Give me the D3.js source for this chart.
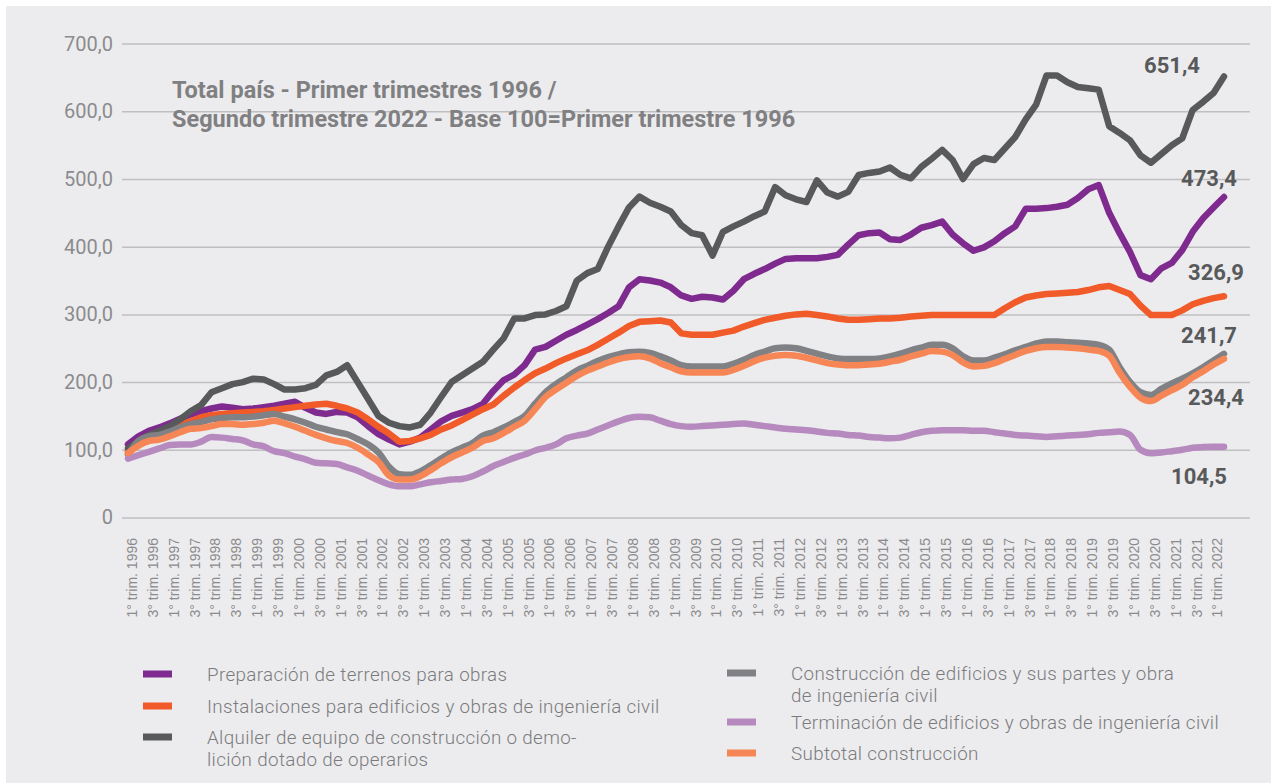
<!DOCTYPE html>
<html>
<head>
<meta charset="utf-8">
<script src="https://cdn.jsdelivr.net/npm/d3@7"></script>
<style>
body { margin: 0; background: #fff; }
</style>
</head>
<body>
<div class="chartwrap"></div>
<script>
var width = 1271, height = 783;

// quarter labels 1996 Q1 .. 2022 Q2
var years = d3.range(1996, 2023);
var quarters = [];
years.forEach(function(yr) {
    [1, 2, 3, 4].forEach(function(q) {
        if (yr == 2022 && q > 2) return;
        quarters.push(q + "° trim. " + yr);
    });
});

var yTicks = [0, 100, 200, 300, 400, 500, 600, 700];

var preparacion = [
    108, 120, 128, 133, 139, 146, 152, 157, 161, 164,
    162, 160, 161, 163, 165, 168, 171, 162, 155, 153,
    156, 155, 148, 135, 123, 115, 108, 112, 118, 130,
    142, 150, 155, 160, 168, 187, 203, 211, 225, 248,
    252, 261, 270, 277, 285, 293, 302, 312, 340, 352,
    350, 347, 340, 328, 323, 326, 325, 322, 335, 352,
    360, 367, 375, 382, 383, 383, 383, 385, 388, 403,
    417, 420, 421, 411, 410, 418, 428, 432, 437, 418,
    405, 394, 399, 408, 420, 430, 456, 456, 457, 459,
    462, 472, 485, 491, 450, 420, 392, 358, 352, 368,
    376, 395, 422, 442, 458, 473.4
];

var instalaciones = [
    97, 108, 118, 123, 130, 137, 142, 148, 151, 153,
    154, 155, 156, 157, 159, 161, 163, 165, 167, 168,
    165, 161, 155, 145, 134, 124, 112, 113, 117, 122,
    130, 136, 144, 152, 160, 167, 180, 192, 203, 213,
    220, 228, 235, 241, 247, 255, 264, 273, 283, 289,
    290, 291, 288, 272, 270, 270, 270, 273, 276, 282,
    287, 292, 295, 298, 300, 301, 299, 297, 294, 292,
    292, 293, 294, 294, 295, 297, 298, 299, 299, 299,
    299, 299, 299, 299, 309, 318, 325, 328, 330, 331,
    332, 333, 336, 340, 342, 336, 330, 313, 299, 299,
    299, 306, 315, 320, 324, 326.9
];

var alquiler = [
    102, 113, 122, 128, 135, 145, 157, 166, 185, 191,
    197, 200, 205, 204, 197, 189, 189, 191, 196, 210,
    215, 225, 200, 175, 150, 140, 135, 133, 137, 155,
    178, 200, 210, 220, 230, 248, 265, 294, 294, 299,
    300, 305, 312, 350, 361, 367, 400, 430, 458, 474,
    465, 459, 452, 432, 420, 417, 387, 422, 430, 437,
    445, 452, 488, 476, 470, 466, 498, 480, 474, 481,
    506, 509, 511, 517, 506, 501, 518, 530, 543, 528,
    500, 522, 531, 528, 545, 562, 588, 610, 653, 653,
    643, 636, 634, 632, 578, 568, 557, 535, 524, 537,
    550, 560, 602, 614, 627, 651.4
];

var edificios = [
    93, 113, 120, 122, 127, 133, 138, 141, 145, 147,
    148, 148, 149, 151, 153, 149, 145, 140, 134, 130,
    126, 123, 116, 108, 96, 75, 64, 63, 68, 77,
    87, 96, 103, 110, 121, 126, 133, 141, 150, 168,
    185, 197, 207, 217, 224, 231, 237, 241, 244, 245,
    243, 238, 232, 225, 223, 223, 223, 223, 227, 233,
    240, 245, 250, 251, 250, 246, 242, 238, 235, 234,
    234, 234, 235, 238, 242, 247, 251, 255, 255, 250,
    238, 232, 232, 236, 241, 247, 252, 257, 260, 260,
    259, 258, 257, 255, 248, 222, 200, 185, 181, 190,
    198, 205, 213, 222, 232, 241.7
];

var terminacion = [
    87, 92, 97, 102, 107, 108, 108, 112, 119, 118,
    116, 114, 108, 105, 98, 95, 90, 86, 81, 80,
    79, 74, 69, 62, 55, 49, 46, 46, 49, 52,
    54, 56, 57, 61, 68, 76, 82, 88, 93, 99,
    103, 108, 117, 121, 124, 130, 136, 142, 147, 149,
    148, 143, 138, 135, 134, 135, 136, 137, 138, 139,
    137, 135, 133, 131, 130, 129, 127, 125, 124, 122,
    121, 119, 118, 117, 118, 122, 126, 128, 129, 129,
    129, 128, 128, 126, 124, 122, 121, 120, 119, 120,
    121, 122, 123, 125, 126, 127, 122, 100, 95, 96,
    98, 100, 103, 104, 104.5, 104.5
];

var subtotal = [
    95, 106, 113, 115, 120, 126, 131, 132, 135, 138,
    138, 137, 138, 140, 143, 139, 134, 128, 122, 117,
    113, 110, 103, 93, 82, 62, 56, 56, 61, 70,
    80, 89, 96, 103, 113, 117, 125, 134, 143, 160,
    178, 189, 199, 209, 217, 223, 229, 234, 237, 238,
    235, 228, 222, 216, 214, 214, 214, 214, 218, 224,
    231, 236, 239, 240, 239, 236, 232, 228, 226, 225,
    225, 226, 227, 230, 233, 238, 242, 246, 245, 240,
    229, 223, 224, 228, 234, 240, 246, 250, 252, 252,
    251, 250, 248, 246, 239, 214, 193, 177, 172, 180,
    188, 196, 207, 216, 226, 234.4
];

var seriesNames = [
    "Preparación de terrenos para obras",
    "Instalaciones para edificios y obras de ingeniería civil",
    "Alquiler de equipo de construcción o demo-|lición dotado de operarios",
    "Construcción de edificios y sus partes y obra|de ingeniería civil",
    "Terminación de edificios y obras de ingeniería civil",
    "Subtotal construcción"
];
var seriesValues = [preparacion, instalaciones, alquiler, edificios, terminacion, subtotal];
var seriesColors = ["#7f2a8f", "#f15a29", "#58595b", "#808184", "#b68abf", "#f68656"];
var smoothed = [false, false, false, true, true, true];

// end label offsets (dx from last point, dy from last value)
var endOffsets = [[13, -19], [20, -24], [-24, -11], [13, -19], [3, 30], [20, 38]];

var plotLeft = 122, plotRight = 1250,
    yBottom = 517.5, yTop = 43.6;

var svg = d3.select(".chartwrap").append("svg")
    .attr("width", width)
    .attr("height", height);

svg.append("rect")
    .attr("x", 6)
    .attr("y", 6)
    .attr("width", width - 6)
    .attr("height", height - 6)
    .attr("fill", "#ececee");

var x = d3.scalePoint()
    .domain(quarters)
    .range([128, 1224]);

var y = d3.scaleLinear()
    .domain([0, 700])
    .range([yBottom, yTop]);

var yAxis = d3.axisLeft(y)
    .tickValues(yTicks)
    .tickSize(-(plotRight - plotLeft))
    .tickPadding(9)
    .tickFormat(function(d) { return d == 0 ? "0" : d3.format(".1f")(d).replace(".", ","); });

function customYAxis(g) {
    g.call(yAxis);
    g.select(".domain").remove();
    g.selectAll(".tick line")
        .attr("stroke", "#bfbfc1")
        .attr("stroke-width", 1.5);
    g.selectAll(".tick text")
        .attr("fill", "#8b8b8d")
        .style("font-family", "Roboto, 'Liberation Sans', sans-serif")
        .style("font-size", "20px");
}

svg.append("g")
    .attr("class", "y axis")
    .attr("transform", "translate(" + plotLeft + ",0)")
    .call(customYAxis);

// x labels, every second quarter
svg.append("g")
    .attr("class", "x labels")
    .selectAll("text")
    .data(quarters.filter(function(d, i) { return i % 2 == 0; }))
    .enter().append("text")
    .attr("transform", function(d) { return "translate(" + (x(d) + 4) + ",538) rotate(-90)"; })
    .attr("dy", "0.35em")
    .style("text-anchor", "end")
    .style("font-family", "'Liberation Sans', Arial, sans-serif")
    .style("font-size", "14px")
    .attr("fill", "#8b8b8d")
    .text(function(d) { return d; });

// title
var title = svg.append("text")
    .attr("x", 172)
    .attr("fill", "#808082")
    .style("font-family", "Roboto, 'Liberation Sans', sans-serif")
    .style("font-weight", "700")
    .style("font-size", "23.5px");
title.append("tspan").attr("x", 172).attr("y", 98)
    .text("Total país - Primer trimestres 1996 /");
title.append("tspan").attr("x", 172).attr("y", 127)
    .text("Segundo trimestre 2022 - Base 100=Primer trimestre 1996");

// lines
var lineg = svg.append("g").attr("class", "lines");
seriesValues.forEach(function(vals, k) {
    var line = d3.line()
        .x(function(d, i) { return x(quarters[i]); })
        .y(function(d) { return y(d); })
        .curve(smoothed[k] ? d3.curveMonotoneX : d3.curveLinear);
    lineg.append("path")
        .datum(vals)
        .attr("fill", "none")
        .attr("stroke", seriesColors[k])
        .attr("stroke-width", 6.5)
        .attr("stroke-linejoin", "round")
        .attr("stroke-linecap", "round")
        .attr("d", line);
});

// end value labels
var last = quarters[quarters.length - 1];
svg.append("g")
    .attr("class", "endlabels")
    .selectAll("text")
    .data(seriesValues)
    .enter().append("text")
    .attr("x", function(d, k) { return x(last) + endOffsets[k][0]; })
    .attr("y", function(d, k) { return y(d[d.length - 1]) + endOffsets[k][1]; })
    .attr("dy", "0.35em")
    .style("text-anchor", "end")
    .style("font-family", "Roboto, 'Liberation Sans', sans-serif")
    .style("font-weight", "700")
    .style("font-size", "22px")
    .attr("fill", "#58595b")
    .text(function(d) { return d3.format(".1f")(d[d.length - 1]).replace(".", ","); });

// legend: two columns
var legendPos = [[143, 674], [143, 706], [143, 737], [727, 673], [727, 722], [727, 753]];
var legend = svg.selectAll(".legend")
    .data(seriesNames)
    .enter().append("g")
    .attr("class", "legend")
    .attr("transform", function(d, i) { return "translate(" + legendPos[i][0] + "," + legendPos[i][1] + ")"; });

legend.append("rect")
    .attr("x", 0)
    .attr("y", -3.5)
    .attr("width", 29)
    .attr("height", 7)
    .attr("fill", function(d, i) { return seriesColors[i]; });

legend.append("text")
    .attr("fill", "#7b7b7d")
    .style("font-family", "Roboto, 'Liberation Sans', sans-serif")
    .style("font-weight", "300")
    .style("font-size", "18.8px")
    .style("letter-spacing", "0.35px")
    .each(function(d) {
        var t = d3.select(this);
        d.split("|").forEach(function(part, j) {
            t.append("tspan")
                .attr("x", 64)
                .attr("y", j * 22)
                .attr("dy", "0.35em")
                .text(part);
        });
    });
</script>
</body>
</html>
